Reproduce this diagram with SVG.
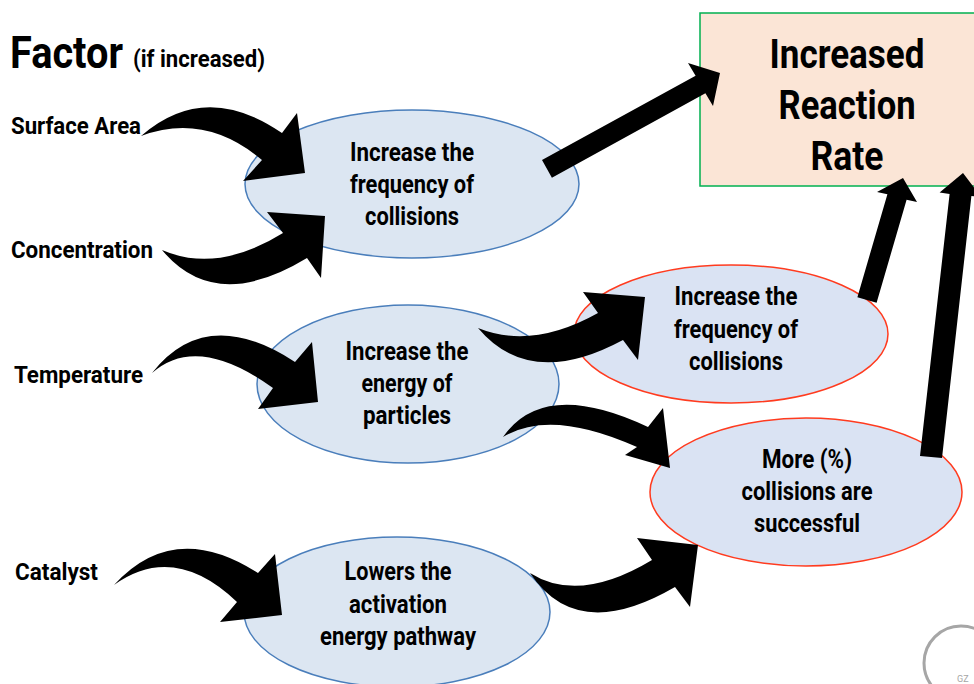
<svg xmlns="http://www.w3.org/2000/svg" width="974" height="684" viewBox="0 0 974 684">
<style>
text{font-family:Roboto,"Liberation Sans",sans-serif;font-weight:bold;fill:#000}
.lbl{font-size:24px}
.nt{font-size:25px;text-anchor:middle}
.big{font-size:40px;text-anchor:middle}
.blue{fill:#dce6f2;stroke:#4a7ebb;stroke-width:1.5}
.red{fill:#dae3f3;stroke:#ff3b1f;stroke-width:1.5}
.arr{fill:#000;stroke:none}
</style>
<rect width="974" height="684" fill="#fff"/>
<g id="title">
<text x="10" y="68" style="font-size:44px" textLength="113" lengthAdjust="spacingAndGlyphs">Factor</text>
<text x="133" y="67" style="font-size:24px" textLength="132" lengthAdjust="spacingAndGlyphs">(if increased)</text>
</g>
<g id="f-surface"><text class="lbl" x="11" y="134" textLength="130" lengthAdjust="spacingAndGlyphs">Surface Area</text></g>
<g id="f-conc"><text class="lbl" x="11" y="258" textLength="142" lengthAdjust="spacingAndGlyphs">Concentration</text></g>
<g id="f-temp"><text class="lbl" x="14" y="383" textLength="129" lengthAdjust="spacingAndGlyphs">Temperature</text></g>
<g id="f-cat"><text class="lbl" x="15" y="580" textLength="83" lengthAdjust="spacingAndGlyphs">Catalyst</text></g>
<g id="n-freq1">
<ellipse class="blue" cx="412" cy="184" rx="167" ry="74"/>
<text class="nt" x="412" y="161" textLength="124" lengthAdjust="spacingAndGlyphs">Increase the</text>
<text class="nt" x="412" y="193" textLength="124" lengthAdjust="spacingAndGlyphs">frequency of</text>
<text class="nt" x="412" y="225" textLength="94" lengthAdjust="spacingAndGlyphs">collisions</text>
</g>
<g id="n-energy">
<ellipse class="blue" cx="408" cy="384" rx="151" ry="79"/>
<text class="nt" x="407" y="360" textLength="123" lengthAdjust="spacingAndGlyphs">Increase the</text>
<text class="nt" x="407" y="392" textLength="91" lengthAdjust="spacingAndGlyphs">energy of</text>
<text class="nt" x="407" y="424" textLength="88" lengthAdjust="spacingAndGlyphs">particles</text>
</g>
<g id="n-lowers">
<ellipse class="blue" cx="397" cy="612" rx="153" ry="75"/>
<text class="nt" x="398" y="580" textLength="107" lengthAdjust="spacingAndGlyphs">Lowers the</text>
<text class="nt" x="398" y="613" textLength="98" lengthAdjust="spacingAndGlyphs">activation</text>
<text class="nt" x="398" y="645" textLength="156" lengthAdjust="spacingAndGlyphs">energy pathway</text>
</g>
<g id="n-freq2">
<ellipse class="red" cx="731" cy="334" rx="157" ry="69"/>
<text class="nt" x="736" y="305" textLength="123" lengthAdjust="spacingAndGlyphs">Increase the</text>
<text class="nt" x="736" y="338" textLength="124" lengthAdjust="spacingAndGlyphs">frequency of</text>
<text class="nt" x="736" y="370" textLength="94" lengthAdjust="spacingAndGlyphs">collisions</text>
</g>
<g id="n-success">
<ellipse class="red" cx="806" cy="492" rx="156" ry="74"/>
<text class="nt" x="807" y="468" textLength="90" lengthAdjust="spacingAndGlyphs">More (%)</text>
<text class="nt" x="807" y="500" textLength="131" lengthAdjust="spacingAndGlyphs">collisions are</text>
<text class="nt" x="807" y="532" textLength="106" lengthAdjust="spacingAndGlyphs">successful</text>
</g>
<g id="n-rate">
<rect x="700" y="13" width="280" height="173" fill="#fbe5d6" stroke="#00b050" stroke-width="1.5"/>
<text class="big" x="847" y="68" textLength="155" lengthAdjust="spacingAndGlyphs">Increased</text>
<text class="big" x="847" y="119" textLength="137" lengthAdjust="spacingAndGlyphs">Reaction</text>
<text class="big" x="847" y="170" textLength="73" lengthAdjust="spacingAndGlyphs">Rate</text>
</g>
<g id="connectors">
<path class="arr" d="M141,136 Q205,80 282,133 L297,113 L305,173 L243,181 L262,160 Q205,112 141,136 Z"/>
<path class="arr" d="M162,250 Q215,314 307,258 L321,278 L325,216 L267,212 L283,233 Q217,274 162,250 Z"/>
<path class="arr" d="M152,373 Q206,304 295,362 L312,342 L318,402 L258,409 L273,388 Q197,333 152,373 Z"/>
<path class="arr" d="M114,585 Q174,519 258,573 L275,554 L282,615 L220,622 L237,602 Q174,542 114,585 Z"/>
<path class="arr" d="M478,328 Q530,390 623,340 L638,360 L645,297 L583,292 L598,313 Q532,350 478,328 Z"/>
<path class="arr" d="M503,437 Q544,378 648,427 L663,408 L670,468 L625,455 L637,447 Q550,408 503,437 Z"/>
<path class="arr" d="M530,573 Q577,644 675,587 L690,607 L698,545 L637,538 L652,560 Q579,604 530,573 Z"/>
<polygon class="arr" points="542,160 695.6,75.8 688,63 720,73 713,106 705.4,93.2 551.9,177.7"/>
<polygon class="arr" points="857.4,297.2 887.4,194.2 877,192 903,178 917,202 906.6,199.8 876.6,302.8"/>
<polygon class="arr" points="920,456 949.6,194 939.6,192.6 963,173 981.4,197.4 971.4,196 942,458"/>
</g>
<g id="logo">
<circle cx="961" cy="663" r="37" fill="none" stroke="#a6a6a6" stroke-width="3"/>
<text x="957" y="682" style="font-size:9px;font-weight:normal;fill:#a6a6a6">GZ</text>
</g>
</svg>
